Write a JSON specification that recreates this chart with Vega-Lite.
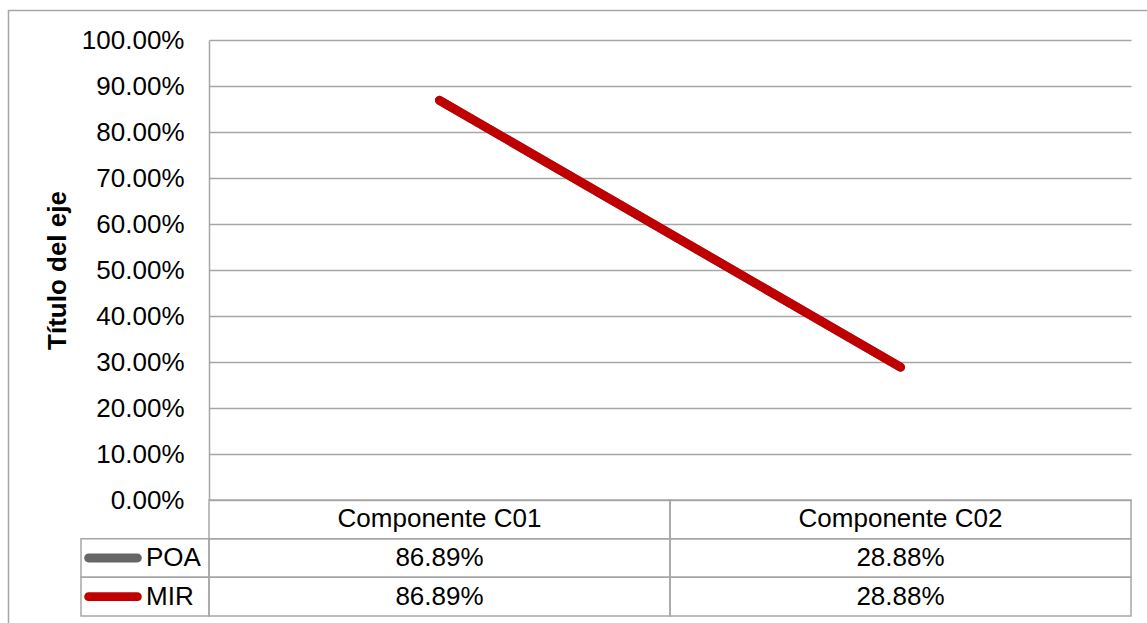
{
  "$schema": "https://vega.github.io/schema/vega-lite/v6.json",
  "width": 922,
  "height": 576,
  "autosize": {"type": "none"},
  "padding": {"left": 209, "top": 40, "right": 16, "bottom": 7},
  "background": "white",
  "config": {
    "view": {"stroke": null},
    "font": "Liberation Sans",
    "text": {"font": "Liberation Sans", "fontSize": 26, "color": "#000000"}
  },
  "datasets": {
    "series": [
      {"serie": "POA", "componente": "Componente C01", "valor": 0.8689},
      {"serie": "POA", "componente": "Componente C02", "valor": 0.2888},
      {"serie": "MIR", "componente": "Componente C01", "valor": 0.8689},
      {"serie": "MIR", "componente": "Componente C02", "valor": 0.2888}
    ],
    "marco": [{"marco": "gráfico"}]
  },
  "layer": [
    {
      "data": {"name": "marco"},
      "mark": {"type": "rect", "fill": "transparent", "stroke": "#a6a6a6", "strokeWidth": 1.5},
      "encoding": {
        "x": {"field": "marco", "type": "nominal", "scale": {"type": "band", "range": [-200.5, 945], "paddingInner": 0, "paddingOuter": 0}, "axis": null},
        "y": {"field": "marco", "type": "nominal", "scale": {"type": "band", "range": [-29.5, 600], "paddingInner": 0, "paddingOuter": 0}, "axis": null}
      }
    },
    {
      "data": {"name": "series"},
      "transform": [{"filter": "datum.serie === 'POA'"}],
      "mark": {"type": "line", "strokeWidth": 9, "strokeCap": "round"},
      "encoding": {
        "x": {"field": "componente", "type": "nominal", "scale": {"type": "point", "domain": ["Componente C01", "Componente C02"], "range": [0, 922], "padding": 0.5}, "axis": null},
        "y": {
          "field": "valor", "type": "quantitative",
          "scale": {"domain": [0, 1], "range": [460, 0], "nice": false},
          "axis": {
            "title": "Título del eje",
            "values": [0, 0.1, 0.2, 0.3, 0.4, 0.5, 0.6, 0.7, 0.8, 0.9, 1],
            "format": ".2%",
            "grid": true, "gridColor": "#a6a6a6", "gridWidth": 1.5,
            "domain": true, "domainColor": "#a6a6a6", "domainWidth": 1.5,
            "ticks": false, "tickSize": 0,
            "labelPadding": 25, "labelFontSize": 26, "labelColor": "#000000", "labelFont": "Liberation Sans",
            "labelFlush": false, "labelOverlap": false,
            "titleFontSize": 26, "titleFont": "Liberation Sans", "titleFontWeight": "bold", "titleColor": "#000000",
            "titlePadding": 11
          }
        },
        "color": {"field": "serie", "type": "nominal", "scale": {"domain": ["POA", "MIR"], "range": ["#666666", "#c00000"]}, "legend": null}
      }
    },
    {
      "data": {"name": "series"},
      "transform": [{"filter": "datum.serie === 'MIR'"}],
      "mark": {"type": "line", "strokeWidth": 9, "strokeCap": "round"},
      "encoding": {
        "x": {"field": "componente", "type": "nominal", "scale": {"type": "point", "domain": ["Componente C01", "Componente C02"], "range": [0, 922], "padding": 0.5}, "axis": null},
        "y": {"field": "valor", "type": "quantitative", "scale": {"domain": [0, 1], "range": [460, 0], "nice": false}, "axis": null},
        "color": {"field": "serie", "type": "nominal", "legend": null}
      }
    },
    {
      "data": {"name": "series"},
      "mark": {"type": "rect", "fill": "transparent", "stroke": "#a6a6a6", "strokeWidth": 1.5},
      "encoding": {
        "x": {"field": "componente", "type": "nominal", "scale": {"type": "band", "domain": ["Componente C01", "Componente C02"], "range": [0, 922], "paddingInner": 0, "paddingOuter": 0}, "axis": null},
        "y": {"field": "serie", "type": "nominal", "scale": {"type": "band", "domain": ["encabezado", "POA", "MIR"], "range": [460, 576], "paddingInner": 0, "paddingOuter": 0}, "axis": null}
      }
    },
    {
      "data": {"name": "series"},
      "transform": [{"aggregate": [{"op": "count", "as": "n"}], "groupby": ["componente"]}],
      "mark": {"type": "rect", "fill": "transparent", "stroke": "#a6a6a6", "strokeWidth": 1.5},
      "encoding": {
        "x": {"field": "componente", "type": "nominal", "scale": {"type": "band", "domain": ["Componente C01", "Componente C02"], "range": [0, 922], "paddingInner": 0, "paddingOuter": 0}, "axis": null},
        "y": {"datum": "encabezado", "type": "nominal", "scale": {"type": "band", "domain": ["encabezado", "POA", "MIR"], "range": [460, 576], "paddingInner": 0, "paddingOuter": 0}, "axis": null}
      }
    },
    {
      "data": {"name": "series"},
      "transform": [{"aggregate": [{"op": "count", "as": "n"}], "groupby": ["componente"]}],
      "mark": {"type": "text", "baseline": "middle", "align": "center", "fontSize": 26, "color": "#000000"},
      "encoding": {
        "x": {"field": "componente", "type": "nominal", "scale": {"type": "band", "domain": ["Componente C01", "Componente C02"], "range": [0, 922], "paddingInner": 0, "paddingOuter": 0}, "axis": null},
        "y": {"datum": "encabezado", "type": "nominal", "scale": {"type": "band", "domain": ["encabezado", "POA", "MIR"], "range": [460, 576], "paddingInner": 0, "paddingOuter": 0}, "axis": null},
        "text": {"field": "componente"}
      }
    },
    {
      "data": {"name": "series"},
      "mark": {"type": "text", "baseline": "middle", "align": "center", "fontSize": 26, "color": "#000000"},
      "encoding": {
        "x": {"field": "componente", "type": "nominal", "scale": {"type": "band", "domain": ["Componente C01", "Componente C02"], "range": [0, 922], "paddingInner": 0, "paddingOuter": 0}, "axis": null},
        "y": {"field": "serie", "type": "nominal", "scale": {"type": "band", "domain": ["encabezado", "POA", "MIR"], "range": [460, 576], "paddingInner": 0, "paddingOuter": 0}, "axis": null},
        "text": {"field": "valor", "type": "quantitative", "format": ".2%"}
      }
    },
    {
      "data": {"name": "series"},
      "transform": [{"aggregate": [{"op": "count", "as": "n"}], "groupby": ["serie"]}],
      "mark": {"type": "rect", "fill": "transparent", "stroke": "#a6a6a6", "strokeWidth": 1.5},
      "encoding": {
        "x": {"datum": "leyenda", "type": "nominal", "scale": {"type": "band", "domain": ["leyenda"], "range": [-128, 0], "paddingInner": 0, "paddingOuter": 0}, "axis": null},
        "y": {"field": "serie", "type": "nominal", "scale": {"type": "band", "domain": ["encabezado", "POA", "MIR"], "range": [460, 576], "paddingInner": 0, "paddingOuter": 0}, "axis": null}
      }
    },
    {
      "data": {"name": "series"},
      "transform": [{"aggregate": [{"op": "count", "as": "n"}], "groupby": ["serie"]}],
      "mark": {"type": "bar", "width": {"band": 0.9}, "height": {"band": 0.23}, "cornerRadius": 4.5},
      "encoding": {
        "x": {"datum": "muestra", "type": "nominal", "scale": {"type": "band", "domain": ["muestra", "etiqueta"], "range": [-128, 0], "paddingInner": 0, "paddingOuter": 0}, "axis": null},
        "y": {"field": "serie", "type": "nominal", "scale": {"type": "band", "domain": ["encabezado", "POA", "MIR"], "range": [460, 576], "paddingInner": 0, "paddingOuter": 0}, "axis": null},
        "color": {"field": "serie", "type": "nominal", "legend": null}
      }
    },
    {
      "data": {"name": "series"},
      "transform": [{"aggregate": [{"op": "count", "as": "n"}], "groupby": ["serie"]}],
      "mark": {"type": "text", "baseline": "middle", "align": "left", "fontSize": 26, "color": "#000000", "dx": 1},
      "encoding": {
        "x": {"datum": "etiqueta", "type": "nominal", "bandPosition": 0, "scale": {"type": "band", "domain": ["muestra", "etiqueta"], "range": [-128, 0], "paddingInner": 0, "paddingOuter": 0}, "axis": null},
        "y": {"field": "serie", "type": "nominal", "scale": {"type": "band", "domain": ["encabezado", "POA", "MIR"], "range": [460, 576], "paddingInner": 0, "paddingOuter": 0}, "axis": null},
        "text": {"field": "serie"}
      }
    }
  ],
  "resolve": {"scale": {"x": "independent", "y": "independent"}}
}
